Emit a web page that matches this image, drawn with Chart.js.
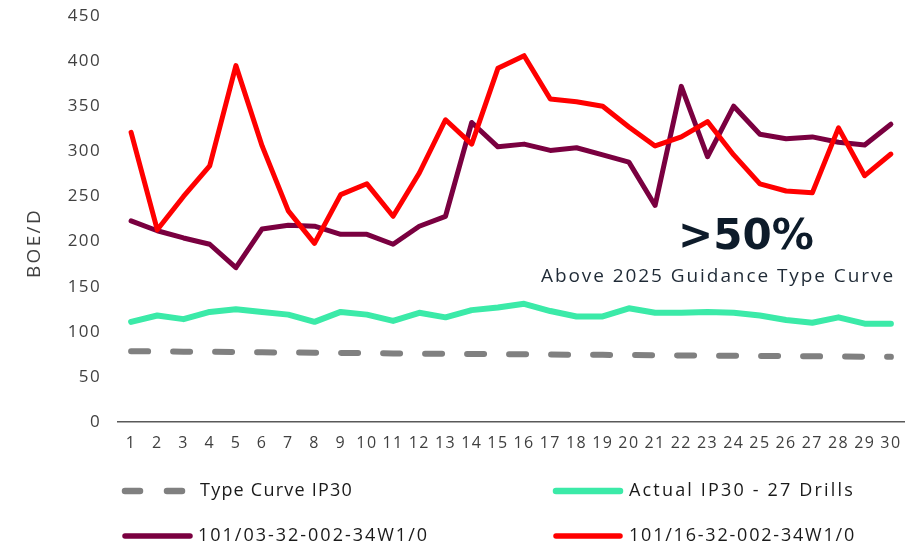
<!DOCTYPE html>
<html>
<head>
<meta charset="utf-8">
<script src="https://cdn.jsdelivr.net/npm/chart.js@4/dist/chart.umd.min.js"></script>
<style>
  html, body { margin: 0; padding: 0; background: #fff; }
  #wrap { width: 922px; height: 546px; position: relative; }
</style>
</head>
<body>
<div id="wrap"><canvas id="c" width="922" height="546"></canvas></div>
<script>
const categories = ["1","2","3","4","5","6","7","8","9","10","11","12","13","14","15","16","17","18","19","20","21","22","23","24","25","26","27","28","29","30"];
const yTicks = [0, 50, 100, 150, 200, 250, 300, 350, 400, 450];
const typeCurve = [78.5, 78.2, 78, 77.8, 77.5, 77.3, 77, 76.8, 76.6, 76.3, 76, 75.8, 75.6, 75.4, 75.2, 75, 74.8, 74.6, 74.4, 74.2, 74, 73.8, 73.6, 73.4, 73.2, 73, 72.8, 72.6, 72.4, 72.2];
const actualIP30 = [111, 118, 114, 122, 125, 122, 119, 111, 122, 119, 112, 121, 116, 124, 127, 131, 123, 117, 117, 126, 121, 121, 122, 121, 118, 113, 110, 116, 109, 109];
const well03 = [223, 212, 204, 197, 171, 214, 218, 217, 208, 208, 197, 217, 228, 332, 305, 308, 301, 304, 296, 288, 240, 372, 294, 350, 319, 314, 316, 310, 307, 330];
const well16 = [321, 213, 250, 284, 395, 306, 234, 198, 252, 264, 228, 276, 335, 308, 392, 406, 358, 355, 350, 327, 306, 316, 333, 296, 264, 256, 254, 326, 273, 297];
const seriesLabels = ["Type Curve IP30", "Actual IP30 - 27 Drills", "101/03-32-002-34W1/0", "101/16-32-002-34W1/0"];
const yTitle = "BOE/D";
const calloutBig = ">50%";
const calloutSmall = "Above 2025 Guidance Type Curve";

const FONT = "'Open Sans', 'Liberation Sans', sans-serif";
const TEXT = "#404040";

function fitText(ctx, text, x, y, width, font, align) {
  ctx.font = font;
  ctx.letterSpacing = '0px';
  const w = ctx.measureText(text).width;
  const n = text.length;
  const ls = Math.max(0, (width - w) / n);
  ctx.letterSpacing = ls + 'px';
  ctx.textAlign = 'left';
  let left = x;
  if (align === 'center') left = x - width / 2;
  ctx.fillText(text, left, y);
  ctx.letterSpacing = '0px';
}

const spacingPlugin = {
  id: 'spacing',
  beforeInit(chart) { chart.ctx.letterSpacing = '1.4px'; },
  beforeDraw(chart) { chart.ctx.letterSpacing = '1.4px'; }
};

const legendPlugin = {
  id: 'customLegend',
  afterDraw(chart) {
    const ctx = chart.ctx;
    const ds = chart.data.datasets;
    const slots = [
      { i: 0, x0: 125, x1: 185, tx: 200, tw: 153, y: 491 },
      { i: 1, x0: 556, x1: 620, tx: 629, tw: 226, y: 491 },
      { i: 2, x0: 125, x1: 190, tx: 198, tw: 231, y: 536 },
      { i: 3, x0: 556, x1: 620, tx: 629, tw: 227, y: 536 }
    ];
    ctx.save();
    slots.forEach(s => {
      const d = ds[s.i];
      ctx.beginPath();
      ctx.strokeStyle = d.borderColor;
      ctx.lineWidth = d.borderWidth + 0.5;
      ctx.lineCap = 'round';
      if (d.borderDash && d.borderDash.length) {
        ctx.setLineDash([15, 27]);
      } else {
        ctx.setLineDash([]);
      }
      ctx.moveTo(s.x0, s.y); ctx.lineTo(s.x1, s.y);
      ctx.stroke();
      ctx.setLineDash([]);
      ctx.fillStyle = '#1a1a1a';
      ctx.textBaseline = 'middle';
      fitText(ctx, d.label, s.tx, s.y, s.tw, "18px " + FONT, 'left');
    });
    ctx.save();
    ctx.translate(35, 243);
    ctx.rotate(-Math.PI / 2);
    ctx.fillStyle = TEXT;
    ctx.textBaseline = 'middle';
    fitText(ctx, yTitle, 0, 0, 70, "19px " + FONT, 'center');
    ctx.restore();
    ctx.fillStyle = '#0d1b2a';
    ctx.textBaseline = 'middle';
    fitText(ctx, calloutBig, 743, 238, 130, "bold 42px 'DejaVu Sans', " + FONT, 'center');
    ctx.fillStyle = '#1f2a36';
    fitText(ctx, calloutSmall, 718, 277, 354, "19px " + FONT, 'center');
    ctx.restore();
  }
};

new Chart(document.getElementById('c'), {
  type: 'line',
  data: {
    labels: categories,
    datasets: [
      { label: seriesLabels[0], data: typeCurve, borderColor: '#808080', borderWidth: 6, borderDash: [17, 25], borderCapStyle: 'round', pointRadius: 0, tension: 0, order: 4 },
      { label: seriesLabels[1], data: actualIP30, borderColor: '#3beaa8', borderWidth: 6, pointRadius: 0, tension: 0, borderJoinStyle: 'round', borderCapStyle: 'round', order: 3 },
      { label: seriesLabels[2], data: well03, borderColor: '#7a0040', borderWidth: 5, pointRadius: 0, tension: 0, borderJoinStyle: 'round', borderCapStyle: 'round', order: 2 },
      { label: seriesLabels[3], data: well16, borderColor: '#ff0000', borderWidth: 5, pointRadius: 0, tension: 0, borderJoinStyle: 'round', borderCapStyle: 'round', order: 1 }
    ]
  },
  options: {
    responsive: false,
    animation: false,
    devicePixelRatio: 1,
    layout: { padding: { top: 16, right: 18, bottom: 86, left: 0 } },
    plugins: { legend: { display: false }, tooltip: { enabled: false } },
    scales: {
      x: {
        offset: true,
        grid: { display: false, drawTicks: false },
        border: { display: true, color: '#595959', width: 1.5 },
        ticks: { color: TEXT, font: { family: FONT, size: 16 }, padding: 12, maxRotation: 0, autoSkip: false },
        afterFit(scale) { scale.height = 38; scale.paddingLeft = 0; scale.paddingRight = 0; }
      },
      y: {
        min: 0, max: 450,
        afterBuildTicks(scale) { scale.ticks = yTicks.map(v => ({ value: v })); },
        grid: { display: false, drawTicks: false },
        border: { display: false },
        ticks: { color: TEXT, font: { family: FONT, size: 17 }, padding: 17 },
        afterFit(scale) { scale.width = 118; scale.paddingTop = 0; scale.paddingBottom = 0; }
      }
    }
  },
  plugins: [spacingPlugin, legendPlugin]
});
</script>
</body>
</html>
